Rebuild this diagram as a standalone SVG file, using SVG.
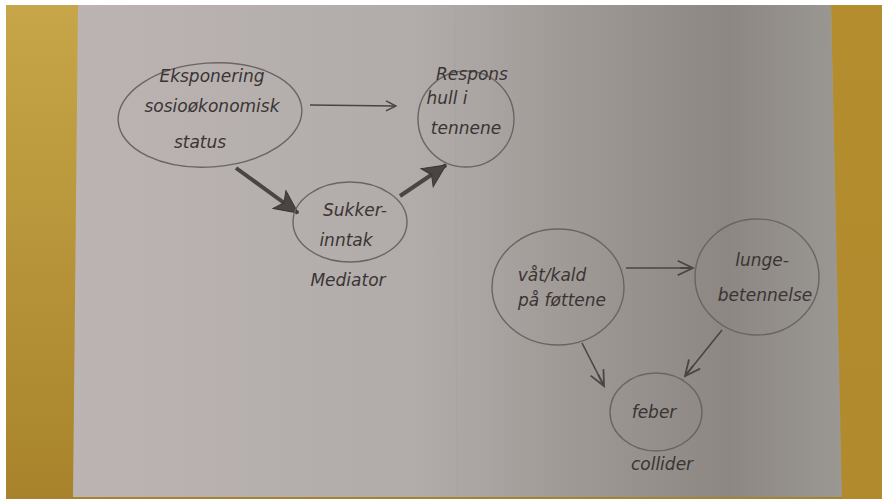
<svg xmlns="http://www.w3.org/2000/svg" width="882" height="499" viewBox="0 0 882 499">
<defs>
<linearGradient id="wood" x1="0" y1="0" x2="0" y2="1">
<stop offset="0" stop-color="#c6a648"/><stop offset="1" stop-color="#a8832b"/>
</linearGradient>
<linearGradient id="wood2" x1="0" y1="0" x2="0" y2="1">
<stop offset="0" stop-color="#b38d2e"/><stop offset="1" stop-color="#b08a2c"/>
</linearGradient>
<linearGradient id="paper" x1="0" y1="0" x2="1" y2="0">
<stop offset="0" stop-color="#bbb4b3"/><stop offset="0.45" stop-color="#b1abaa"/><stop offset="0.62" stop-color="#a29c99"/><stop offset="0.85" stop-color="#8c8783"/><stop offset="1" stop-color="#9b9792"/>
</linearGradient>
<marker id="open" viewBox="0 0 12 12" refX="11" refY="6" markerWidth="12" markerHeight="12" markerUnits="userSpaceOnUse" orient="auto">
<path d="M1,1 L11,6 L1,11" fill="none" stroke="#4a4545" stroke-width="1.5"/>
</marker>
<marker id="heavy" viewBox="0 0 24 24" refX="22" refY="12" markerWidth="26" markerHeight="26" markerUnits="userSpaceOnUse" orient="auto">
<path d="M1,2 L22,12 L1,22 L6,12 Z" fill="#4a4543" stroke="#3c3836" stroke-width="1"/>
</marker>
<marker id="mid" viewBox="0 0 20 20" refX="18" refY="10" markerWidth="18" markerHeight="18" markerUnits="userSpaceOnUse" orient="auto">
<path d="M1,2 L18,10 L1,18 M18,10 L4,10" fill="none" stroke="#4a4545" stroke-width="2"/>
</marker>
</defs>
<style>
.n{fill:none;stroke:#6a6462;stroke-width:1.4}
.t{font-family:"DejaVu Sans","Liberation Sans",sans-serif;font-size:17px;fill:#3a3434;text-anchor:middle;font-style:italic}
.c{stroke:#4a4545;fill:none;stroke-width:1.6}
.h{stroke:#4a4543;fill:none;stroke-width:4}
</style>
<rect width="882" height="499" fill="#ffffff"/>
<rect x="6" y="5" width="876" height="494" fill="url(#wood)"/>
<polygon points="831,5 882,5 882,499 842,499" fill="url(#wood2)"/>
<polygon points="78,5 831,5 842,497 73,497" fill="url(#paper)"/>
<line x1="455" y1="5" x2="457" y2="497" stroke="#a8a2a0" stroke-width="1" opacity="0.6"/>

<g id="connectors">
<line class="c" x1="310" y1="105" x2="396" y2="106" marker-end="url(#open)"/>
<line class="h" x1="236" y1="168" x2="298" y2="213" marker-end="url(#heavy)"/>
<line class="h" x1="400" y1="196" x2="446" y2="165" marker-end="url(#heavy)"/>
<line class="c" x1="626" y1="268" x2="693" y2="268" marker-end="url(#mid)"/>
<line class="c" x1="582" y1="343" x2="604" y2="386" marker-end="url(#mid)"/>
<line class="c" x1="722" y1="330" x2="685" y2="376" marker-end="url(#mid)"/>
</g>

<g id="node-eksponering">
<ellipse class="n" cx="210" cy="115" rx="92" ry="52" transform="rotate(-4 210 115)"/>
<text class="t" x="212" y="82">Eksponering</text>
<text class="t" x="212" y="112">sosioøkonomisk</text>
<text class="t" x="200" y="148">status</text>
</g>

<g id="node-respons">
<circle class="n" cx="466" cy="119" r="48"/>
<text class="t" x="472" y="80">Respons</text>
<text class="t" x="447" y="104">hull i</text>
<text class="t" x="466" y="134">tennene</text>
</g>

<g id="node-sukker">
<ellipse class="n" cx="350" cy="222" rx="57" ry="40"/>
<text class="t" x="355" y="216">Sukker-</text>
<text class="t" x="346" y="246">inntak</text>
<text class="t" x="348" y="286">Mediator</text>
</g>

<g id="node-vaat">
<ellipse class="n" cx="558" cy="287" rx="66" ry="58"/>
<text class="t" x="552" y="281">våt/kald</text>
<text class="t" x="562" y="306">på føttene</text>
</g>

<g id="node-lunge">
<ellipse class="n" cx="757" cy="277" rx="62" ry="58"/>
<text class="t" x="762" y="266">lunge-</text>
<text class="t" x="765" y="301">betennelse</text>
</g>

<g id="node-feber">
<ellipse class="n" cx="656" cy="412" rx="46" ry="39"/>
<text class="t" x="654" y="418">feber</text>
<text class="t" x="662" y="470">collider</text>
</g>
</svg>
